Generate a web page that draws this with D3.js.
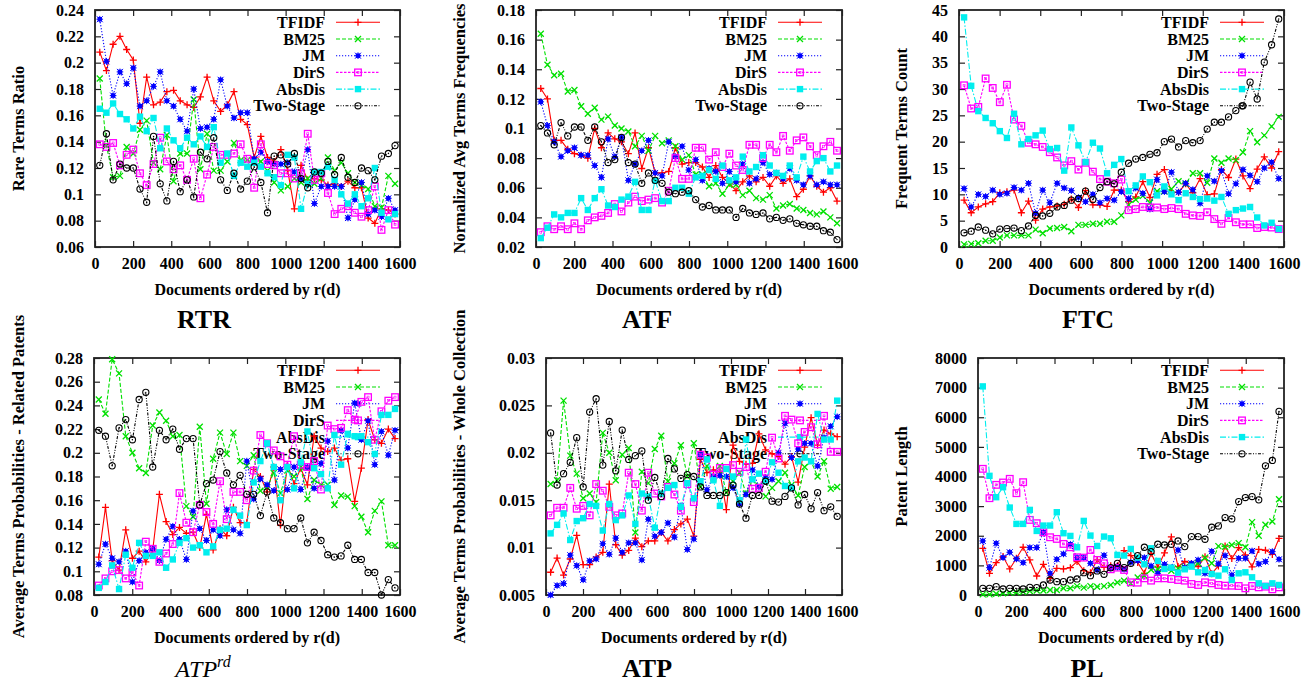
<!DOCTYPE html>
<html>
<head>
<meta charset="utf-8">
<script src="https://cdn.jsdelivr.net/npm/d3@7"></script>
<style>
html,body{margin:0;padding:0;background:#fff;}
svg{display:block;}
text{font-family:"Liberation Serif","Times New Roman",serif;}
</style>
</head>
<body>
<svg id="chart" width="1316" height="683"></svg>
<script>
// ---------- shared categories ----------
const docs = [25,60,95,131,166,201,236,271,307,342,377,412,447,483,518,553,588,623,659,694,729,764,799,835,870,905,940,975,1011,1046,1081,1116,1151,1187,1222,1257,1292,1327,1363,1398,1433,1468,1503,1539,1574];
const xTicks = [0,200,400,600,800,1000,1200,1400,1600];
const seriesNames = ["TFIDF","BM25","JM","DirS","AbsDis","Two-Stage"];

// ---------- RTR ----------
const rtrTicks = [0.06,0.08,0.1,0.12,0.14,0.16,0.18,0.2,0.22,0.24];
const rtrTFIDF = [0.208,0.194,0.214,0.220,0.210,0.202,0.154,0.189,0.168,0.170,0.178,0.179,0.171,0.168,0.166,0.174,0.189,0.171,0.163,0.168,0.178,0.157,0.153,0.128,0.144,0.128,0.125,0.134,0.118,0.089,0.122,0.111,0.112,0.111,0.107,0.108,0.106,0.110,0.105,0.105,0.082,0.078,0.089,0.088,0.085];
const rtrBM25 = [0.188,0.137,0.113,0.114,0.136,0.131,0.149,0.156,0.124,0.119,0.145,0.110,0.131,0.131,0.172,0.119,0.146,0.118,0.118,0.125,0.139,0.126,0.126,0.124,0.125,0.118,0.109,0.103,0.106,0.112,0.109,0.112,0.108,0.112,0.128,0.118,0.124,0.116,0.109,0.107,0.104,0.091,0.090,0.114,0.108];
const rtrJM = [0.233,0.201,0.175,0.193,0.184,0.196,0.167,0.171,0.182,0.193,0.171,0.167,0.157,0.148,0.180,0.150,0.151,0.157,0.187,0.167,0.158,0.162,0.162,0.127,0.132,0.125,0.123,0.123,0.124,0.117,0.112,0.134,0.093,0.106,0.106,0.106,0.106,0.082,0.096,0.109,0.085,0.088,0.083,0.097,0.088];
const rtrDirS = [0.138,0.136,0.139,0.122,0.130,0.134,0.116,0.107,0.123,0.143,0.125,0.119,0.122,0.111,0.127,0.097,0.115,0.136,0.130,0.130,0.131,0.138,0.127,0.105,0.138,0.123,0.122,0.116,0.116,0.112,0.116,0.146,0.111,0.116,0.101,0.085,0.089,0.091,0.086,0.083,0.088,0.106,0.073,0.088,0.077];
const rtrAbsDis = [0.165,0.162,0.169,0.161,0.157,0.150,0.159,0.148,0.158,0.135,0.150,0.141,0.135,0.143,0.138,0.144,0.136,0.151,0.124,0.131,0.114,0.124,0.121,0.124,0.121,0.116,0.113,0.107,0.130,0.128,0.089,0.108,0.117,0.117,0.121,0.111,0.100,0.093,0.100,0.091,0.097,0.120,0.086,0.081,0.085];
const rtrTwoStage = [0.122,0.146,0.111,0.123,0.120,0.120,0.104,0.094,0.144,0.108,0.095,0.125,0.102,0.111,0.098,0.132,0.127,0.143,0.111,0.103,0.116,0.104,0.110,0.121,0.109,0.086,0.129,0.130,0.123,0.131,0.112,0.105,0.117,0.116,0.125,0.115,0.128,0.113,0.109,0.120,0.118,0.111,0.129,0.131,0.137];

// ---------- ATF ----------
const atfTicks = [0.02,0.04,0.06,0.08,0.1,0.12,0.14,0.16,0.18];
const atfTFIDF = [0.127,0.120,0.092,0.092,0.086,0.083,0.082,0.080,0.100,0.087,0.097,0.093,0.091,0.083,0.097,0.073,0.087,0.070,0.070,0.071,0.087,0.076,0.077,0.077,0.074,0.067,0.075,0.067,0.063,0.058,0.064,0.068,0.064,0.067,0.061,0.068,0.063,0.066,0.054,0.059,0.068,0.061,0.057,0.060,0.051];
const atfBM25 = [0.164,0.143,0.136,0.137,0.125,0.126,0.115,0.110,0.114,0.106,0.108,0.102,0.100,0.098,0.088,0.095,0.085,0.095,0.090,0.092,0.088,0.079,0.082,0.069,0.069,0.061,0.063,0.056,0.062,0.062,0.055,0.058,0.053,0.052,0.055,0.046,0.048,0.049,0.046,0.045,0.043,0.042,0.044,0.040,0.036];
const atfJM = [0.118,0.102,0.091,0.081,0.085,0.087,0.082,0.082,0.075,0.067,0.093,0.081,0.094,0.065,0.076,0.085,0.092,0.070,0.068,0.091,0.081,0.088,0.072,0.079,0.065,0.073,0.071,0.063,0.071,0.064,0.076,0.063,0.066,0.077,0.069,0.070,0.066,0.073,0.065,0.062,0.068,0.062,0.064,0.062,0.062];
const atfDirS = [0.030,0.034,0.032,0.034,0.032,0.036,0.032,0.038,0.040,0.041,0.043,0.049,0.044,0.050,0.054,0.051,0.052,0.053,0.050,0.058,0.080,0.066,0.066,0.087,0.087,0.079,0.084,0.074,0.083,0.075,0.072,0.089,0.089,0.080,0.089,0.084,0.095,0.085,0.092,0.094,0.088,0.082,0.088,0.091,0.085];
const atfAbsDis = [0.026,0.033,0.042,0.040,0.043,0.043,0.053,0.045,0.053,0.059,0.048,0.047,0.052,0.054,0.064,0.045,0.045,0.065,0.051,0.051,0.060,0.060,0.056,0.067,0.068,0.072,0.066,0.075,0.065,0.067,0.081,0.071,0.074,0.082,0.075,0.070,0.068,0.075,0.067,0.081,0.071,0.078,0.080,0.071,0.075];
const atfTwoStage = [0.102,0.097,0.089,0.104,0.095,0.101,0.101,0.092,0.101,0.091,0.077,0.079,0.094,0.077,0.076,0.063,0.070,0.065,0.063,0.057,0.056,0.057,0.058,0.052,0.047,0.048,0.045,0.045,0.045,0.040,0.046,0.043,0.042,0.043,0.039,0.040,0.038,0.039,0.036,0.035,0.034,0.034,0.031,0.030,0.025];

// ---------- FTC ----------
const ftcTicks = [0,5,10,15,20,25,30,35,40,45];
const ftcTFIDF = [8.9,6.5,7.6,8.2,8.6,10.3,10.5,10.8,6.5,8.7,5.1,7.2,7.6,7.8,8.1,9.1,7.5,10.7,8.0,8.0,7.7,10.8,10.8,8.6,9.5,12.4,9.4,13.8,14.7,10.3,10.4,12.0,10.3,13.0,9.9,10.1,14.7,13.2,16.7,13.5,11.1,14.8,17.1,15.0,18.1];
const ftcBM25 = [0.5,0.6,0.7,1.2,1.2,1.8,2.2,2.2,2.2,2.2,3.3,2.6,3.5,3.6,3.8,3.0,4.2,4.2,4.4,4.4,4.8,4.8,6.0,8.0,9.0,9.7,8.4,10.6,10.6,11.0,12.5,12.0,14.0,14.0,12.2,16.8,16.0,16.8,16.5,18.0,22.0,19.9,21.2,22.9,24.7];
const ftcJM = [11.1,7.6,10.0,9.6,10.8,10.0,10.2,11.3,10.8,12.1,6.4,10.8,8.4,12.1,11.2,10.7,9.4,8.6,10.0,8.4,9.2,8.9,10.5,9.2,11.2,10.2,7.2,12.8,10.5,14.2,10.4,12.1,10.9,8.3,13.5,12.5,14.5,10.1,12.0,14.7,13.6,12.4,15.0,16.1,13.0];
const ftcDirS = [30.7,26.3,26.6,32.0,30.2,27.5,30.8,24.2,23.0,19.8,19.5,19.0,18.0,17.0,15.5,16.3,14.7,16.0,14.3,12.9,12.4,12.1,12.8,7.0,7.2,7.6,7.5,7.5,7.2,7.4,7.2,6.3,6.0,5.9,6.6,5.3,4.4,5.5,4.7,4.3,4.3,3.6,3.8,3.7,3.4];
const ftcAbsDis = [43.6,30.6,25.8,24.5,23.5,22.0,20.7,25.3,19.5,20.5,21.2,22.1,18.6,18.8,14.5,22.7,19.3,16.1,19.8,18.7,14.0,15.6,16.7,10.6,11.7,13.4,12.3,9.8,11.5,10.0,8.9,10.2,9.5,9.1,9.2,8.8,9.5,6.3,7.0,7.3,7.6,5.6,4.1,4.6,3.4];
const ftcTwoStage = [2.7,3.0,3.8,3.2,2.5,3.4,3.5,3.6,3.1,4.0,6.0,5.9,6.4,7.6,7.9,8.9,9.2,10.6,9.0,11.3,12.4,12.0,14.2,15.9,16.7,17.0,17.6,17.9,20.0,20.5,19.0,20.2,19.8,20.2,22.4,23.7,23.7,24.7,25.9,26.8,31.3,28.1,35.1,38.4,43.3];

// ---------- ATP^rd ----------
const atprdTicks = [0.08,0.1,0.12,0.14,0.16,0.18,0.2,0.22,0.24,0.26,0.28];
const atprdTFIDF = [0.112,0.154,0.109,0.101,0.135,0.111,0.117,0.108,0.118,0.165,0.142,0.131,0.137,0.132,0.133,0.120,0.148,0.118,0.136,0.130,0.154,0.141,0.141,0.186,0.180,0.167,0.188,0.139,0.190,0.174,0.187,0.173,0.214,0.204,0.201,0.204,0.194,0.195,0.159,0.187,0.228,0.211,0.208,0.220,0.212];
const atprdBM25 = [0.245,0.233,0.279,0.267,0.214,0.200,0.187,0.183,0.223,0.234,0.227,0.214,0.215,0.155,0.146,0.222,0.157,0.195,0.217,0.199,0.217,0.193,0.189,0.198,0.168,0.171,0.183,0.166,0.185,0.180,0.188,0.161,0.177,0.173,0.173,0.156,0.164,0.163,0.155,0.146,0.133,0.151,0.159,0.122,0.122];
const atprdJM = [0.106,0.123,0.111,0.108,0.117,0.091,0.109,0.116,0.119,0.109,0.127,0.138,0.127,0.110,0.151,0.136,0.126,0.135,0.130,0.152,0.135,0.132,0.193,0.161,0.178,0.173,0.168,0.186,0.169,0.188,0.169,0.188,0.170,0.191,0.210,0.177,0.219,0.204,0.242,0.211,0.227,0.190,0.218,0.198,0.219];
const atprdDirS = [0.088,0.094,0.100,0.101,0.094,0.099,0.088,0.125,0.119,0.108,0.115,0.123,0.166,0.141,0.133,0.156,0.150,0.140,0.176,0.144,0.167,0.167,0.160,0.185,0.215,0.208,0.202,0.197,0.190,0.214,0.190,0.188,0.193,0.169,0.223,0.220,0.221,0.236,0.228,0.243,0.247,0.211,0.235,0.244,0.247];
const atprdAbsDis = [0.086,0.091,0.105,0.085,0.114,0.103,0.124,0.113,0.113,0.116,0.103,0.110,0.124,0.128,0.120,0.122,0.116,0.121,0.135,0.136,0.152,0.147,0.139,0.175,0.193,0.208,0.188,0.160,0.188,0.170,0.192,0.218,0.187,0.182,0.170,0.215,0.190,0.216,0.214,0.214,0.209,0.199,0.232,0.232,0.237];
const atprdTwoStage = [0.219,0.214,0.189,0.221,0.228,0.211,0.245,0.251,0.188,0.219,0.211,0.220,0.203,0.212,0.212,0.156,0.174,0.177,0.201,0.183,0.173,0.181,0.165,0.165,0.147,0.167,0.145,0.141,0.136,0.136,0.145,0.124,0.133,0.126,0.114,0.112,0.113,0.122,0.110,0.110,0.099,0.099,0.080,0.093,0.086];

// ---------- ATP ----------
const atpTicks = [0.005,0.01,0.015,0.02,0.025,0.03];
const atpTFIDF = [0.0074,0.0089,0.0071,0.0088,0.0113,0.0082,0.0082,0.0090,0.0095,0.0167,0.0103,0.0092,0.0097,0.0110,0.0101,0.0107,0.0107,0.0116,0.0107,0.0119,0.0125,0.0130,0.0112,0.0193,0.0179,0.0182,0.0180,0.0140,0.0208,0.0191,0.0188,0.0189,0.0220,0.0203,0.0199,0.0196,0.0188,0.0196,0.0169,0.0206,0.0237,0.0208,0.0224,0.0220,0.0217];
const atpBM25 = [0.0167,0.0171,0.0255,0.0197,0.0178,0.0152,0.0157,0.0148,0.0221,0.0200,0.0171,0.0198,0.0205,0.0116,0.0180,0.0168,0.0204,0.0218,0.0170,0.0189,0.0208,0.0175,0.0210,0.0164,0.0186,0.0173,0.0186,0.0158,0.0170,0.0179,0.0157,0.0171,0.0165,0.0154,0.0163,0.0170,0.0179,0.0166,0.0155,0.0185,0.0191,0.0175,0.0191,0.0162,0.0164];
const atpJM = [0.0050,0.0060,0.0062,0.0092,0.0081,0.0066,0.0086,0.0088,0.0104,0.0093,0.0110,0.0095,0.0105,0.0105,0.0087,0.0130,0.0112,0.0116,0.0126,0.0111,0.0144,0.0098,0.0109,0.0198,0.0161,0.0175,0.0176,0.0175,0.0163,0.0146,0.0156,0.0182,0.0164,0.0174,0.0172,0.0200,0.0231,0.0195,0.0204,0.0210,0.0210,0.0186,0.0216,0.0228,0.0238];
const atpDirS = [0.0134,0.0142,0.0142,0.0163,0.0141,0.0144,0.0134,0.0167,0.0160,0.0143,0.0134,0.0136,0.0179,0.0167,0.0139,0.0179,0.0157,0.0154,0.0164,0.0156,0.0139,0.0167,0.0148,0.0198,0.0195,0.0177,0.0184,0.0184,0.0187,0.0180,0.0185,0.0162,0.0163,0.0180,0.0216,0.0194,0.0239,0.0235,0.0210,0.0222,0.0227,0.0209,0.0239,0.0201,0.0201];
const atpAbsDis = [0.0115,0.0124,0.0136,0.0108,0.0128,0.0131,0.0146,0.0144,0.0118,0.0146,0.0129,0.0134,0.0155,0.0125,0.0157,0.0154,0.0121,0.0157,0.0163,0.0166,0.0143,0.0168,0.0152,0.0170,0.0193,0.0171,0.0144,0.0183,0.0175,0.0150,0.0214,0.0172,0.0178,0.0170,0.0190,0.0179,0.0165,0.0163,0.0191,0.0195,0.0191,0.0241,0.0214,0.0214,0.0255];
const atpTwoStage = [0.0221,0.0166,0.0178,0.0190,0.0216,0.0164,0.0243,0.0257,0.0187,0.0233,0.0181,0.0224,0.0193,0.0197,0.0202,0.0150,0.0174,0.0154,0.0194,0.0183,0.0173,0.0177,0.0175,0.0164,0.0155,0.0155,0.0155,0.0158,0.0166,0.0146,0.0131,0.0155,0.0155,0.0170,0.0149,0.0148,0.0154,0.0163,0.0145,0.0156,0.0141,0.0158,0.0139,0.0143,0.0133];

// ---------- PL ----------
const plTicks = [0,1000,2000,3000,4000,5000,6000,7000,8000];
const plTFIDF = [1577,732,1093,1296,879,1239,1611,1183,642,1037,563,901,879,924,1127,822,755,1183,935,991,980,1499,1330,1100,732,1408,940,1420,1960,960,1130,1060,960,1290,720,980,1650,1230,1600,1350,950,1540,1510,1370,1910];
const plBM25 = [20,20,40,60,80,90,110,135,150,150,170,170,225,225,300,250,300,280,300,340,420,480,390,590,650,850,880,935,820,900,935,1010,1070,1260,1070,1650,1630,1690,1750,1610,2460,2000,2370,2480,3230];
const plJM = [1825,924,1746,1262,1442,1217,1093,1600,1600,2118,732,1206,1386,1713,1262,1262,1070,845,1341,901,935,868,1104,1160,1262,980,732,1037,924,1521,924,1070,1183,732,1476,1048,1330,676,1239,1239,1487,1048,1127,1465,1206];
const plDirS = [4259,3268,3718,3797,3921,3437,3808,2535,2423,2118,1949,1893,1724,1611,1273,1262,1521,1183,1070,868,924,845,428,417,563,485,563,563,541,507,485,372,338,428,394,338,315,315,304,225,304,259,282,192,259];
const plAbsDis = [7042,4023,3301,3639,2952,2400,2400,2873,2163,2344,2344,2794,2085,1994,1611,2501,2006,1656,1972,1915,1352,1330,1555,1262,1037,1577,1149,879,924,755,868,958,766,845,710,653,868,507,732,766,597,394,304,394,338];
const plTwoStage = [225,225,282,203,225,225,203,259,248,338,507,451,451,507,541,755,653,811,699,924,1070,924,1070,1330,1611,1465,1713,1690,1713,1825,1634,1972,1972,1882,2287,2332,2614,2569,3155,3290,3324,3211,4361,4541,6197];

// ---------- styles ----------
const colors = ["#ff0000","#00e000","#0000ff","#ff00ff","#00eeee","#000000"];
const dashes = [null,"4,2","1.2,1.8","2.5,1.5","6,2,1.5,2","3,1.5,1,1.5,1,1.5"];
const markers = ["plus","cross","star","osquare","fsquare","circle"];

const panels = [
  {frame:[95,10,400,247], dom:[0.06,0.24], ticks:rtrTicks, ylabel:"Rare Terms Ratio", ylx:18, cap:"RTR", capx:204, capy:328,
   data:[rtrTFIDF,rtrBM25,rtrJM,rtrDirS,rtrAbsDis,rtrTwoStage]},
  {frame:[536,10,842,247], dom:[0.02,0.18], ticks:atfTicks, ylabel:"Normalized Avg Terms Frequencies", ylx:459, cap:"ATF", capx:647, capy:328,
   data:[atfTFIDF,atfBM25,atfJM,atfDirS,atfAbsDis,atfTwoStage]},
  {frame:[959,10,1284,247], dom:[0,45], ticks:ftcTicks, ylabel:"Frequent Terms Count", ylx:901, cap:"FTC", capx:1088, capy:328,
   data:[ftcTFIDF,ftcBM25,ftcJM,ftcDirS,ftcAbsDis,ftcTwoStage]},
  {frame:[94,358,400,595], dom:[0.08,0.28], ticks:atprdTicks, ylabel:"Average Terms Probabilities - Related Patents", ylx:18, cap:"ATPrd", capx:203, capy:677,
   data:[atprdTFIDF,atprdBM25,atprdJM,atprdDirS,atprdAbsDis,atprdTwoStage]},
  {frame:[546,358,842,595], dom:[0.005,0.03], ticks:atpTicks, ylabel:"Average Terms Probabilities - Whole Collection", ylx:459, cap:"ATP", capx:647, capy:677,
   data:[atpTFIDF,atpBM25,atpJM,atpDirS,atpAbsDis,atpTwoStage]},
  {frame:[978,358,1284,595], dom:[0,8000], ticks:plTicks, ylabel:"Patent Length", ylx:901, cap:"PL", capx:1087, capy:677,
   data:[plTFIDF,plBM25,plJM,plDirS,plAbsDis,plTwoStage]}
];

const svg = d3.select("#chart");
const fmt = v => String(+v.toFixed(4));

function drawMarker(g, type, cx, cy, color) {
  if (type === "plus") {
    g.append("path").attr("d", `M${cx-3.5},${cy}H${cx+3.5}M${cx},${cy-3.5}V${cy+3.5}`).attr("stroke", color).attr("stroke-width", 1.3).attr("fill","none");
  } else if (type === "cross") {
    g.append("path").attr("d", `M${cx-3},${cy-3}L${cx+3},${cy+3}M${cx-3},${cy+3}L${cx+3},${cy-3}`).attr("stroke", color).attr("stroke-width", 1.3).attr("fill","none");
  } else if (type === "star") {
    g.append("rect").attr("x",cx-2.2).attr("y",cy-2.2).attr("width",4.4).attr("height",4.4).attr("fill",color);
    g.append("path").attr("d", `M${cx-3.3},${cy}H${cx+3.3}M${cx},${cy-3.3}V${cy+3.3}M${cx-3},${cy-3}L${cx+3},${cy+3}M${cx-3},${cy+3}L${cx+3},${cy-3}`).attr("stroke", color).attr("stroke-width", 1).attr("fill","none");
  } else if (type === "osquare") {
    g.append("rect").attr("x",cx-3.3).attr("y",cy-3.3).attr("width",6.6).attr("height",6.6).attr("fill","none").attr("stroke",color).attr("stroke-width",1.3);
    g.append("rect").attr("x",cx-1).attr("y",cy-1).attr("width",2).attr("height",2).attr("fill","none").attr("stroke",color).attr("stroke-width",0.6);
  } else if (type === "fsquare") {
    g.append("rect").attr("x",cx-3.2).attr("y",cy-3.2).attr("width",6.4).attr("height",6.4).attr("fill",color);
  } else if (type === "circle") {
    g.append("circle").attr("cx",cx).attr("cy",cy).attr("r",3.1).attr("fill","none").attr("stroke",color).attr("stroke-width",1.1);
    g.append("circle").attr("cx",cx).attr("cy",cy).attr("r",0.7).attr("fill",color);
  }
}

panels.forEach(p => {
  const [l,t,r,b] = p.frame;
  const x = d3.scaleLinear().domain([0,1600]).range([l,r]);
  const y = d3.scaleLinear().domain(p.dom).range([b,t]);
  const g = svg.append("g");

  // axes with inward ticks (mirrored)
  const ax = [
    g.append("g").attr("transform",`translate(0,${b})`).call(d3.axisBottom(x).tickValues(xTicks).tickFormat(fmt).tickSize(-6).tickPadding(10.5)),
    g.append("g").attr("transform",`translate(0,${t})`).call(d3.axisTop(x).tickValues(xTicks).tickFormat("").tickSize(-6)),
    g.append("g").attr("transform",`translate(${l},0)`).call(d3.axisLeft(y).tickValues(p.ticks).tickFormat(fmt).tickSize(-6).tickPadding(11)),
    g.append("g").attr("transform",`translate(${r},0)`).call(d3.axisRight(y).tickValues(p.ticks).tickFormat("").tickSize(-6))
  ];
  ax.forEach(a => {
    a.select(".domain").remove();
    a.selectAll("line").attr("stroke","#222").attr("stroke-width",1.2);
    a.selectAll("text").attr("font-family","Liberation Serif, serif").attr("font-size",16).attr("font-weight","bold").attr("fill","#000");
  });

  // frame
  g.append("rect").attr("x",l).attr("y",t).attr("width",r-l).attr("height",b-t)
    .attr("fill","none").attr("stroke","#222").attr("stroke-width",1.8);

  // axis titles
  g.append("text").attr("x",(l+r)/2).attr("y",b+48).attr("text-anchor","middle")
    .attr("font-size",16).attr("font-weight","bold").text("Documents ordered by r(d)");
  g.append("text").attr("transform",`translate(${p.ylx},${(t+b)/2}) rotate(-90)`).attr("dy","0.35em")
    .attr("text-anchor","middle").attr("font-size",16.5).attr("font-weight","bold").text(p.ylabel);

  // caption
  if (p.cap === "ATPrd") {
    const c = g.append("text").attr("x",p.capx).attr("y",p.capy).attr("text-anchor","middle")
      .attr("font-size",24).attr("font-style","italic");
    c.append("tspan").text("ATP");
    c.append("tspan").attr("font-size",16).attr("dy",-10).text("rd");
  } else {
    g.append("text").attr("x",p.capx).attr("y",p.capy).attr("text-anchor","middle")
      .attr("font-size",26).attr("font-weight","bold").text(p.cap);
  }

  // legend
  seriesNames.forEach((name,k) => {
    const ly = t + 12.3 + 16.7*k;
    g.append("text").attr("x",r-75).attr("y",ly).attr("dy","0.35em").attr("text-anchor","end")
      .attr("font-size",16).attr("font-weight","bold").text(name);
    const ln = g.append("line").attr("x1",r-64).attr("x2",r-20).attr("y1",ly).attr("y2",ly)
      .attr("stroke",colors[k]).attr("stroke-width",1.1);
    if (dashes[k]) ln.attr("stroke-dasharray",dashes[k]);
    drawMarker(g, markers[k], r-42, ly, colors[k]);
  });

  // series
  const line = d3.line().x((d,i) => x(docs[i])).y(d => y(d));
  p.data.forEach((vals,k) => {
    const path = g.append("path").datum(vals).attr("d",line).attr("fill","none")
      .attr("stroke",colors[k]).attr("stroke-width",1.1);
    if (dashes[k]) path.attr("stroke-dasharray",dashes[k]);
    const mg = g.append("g");
    vals.forEach((v,i) => drawMarker(mg, markers[k], x(docs[i]), y(v), colors[k]));
  });
});
</script>
</body>
</html>
